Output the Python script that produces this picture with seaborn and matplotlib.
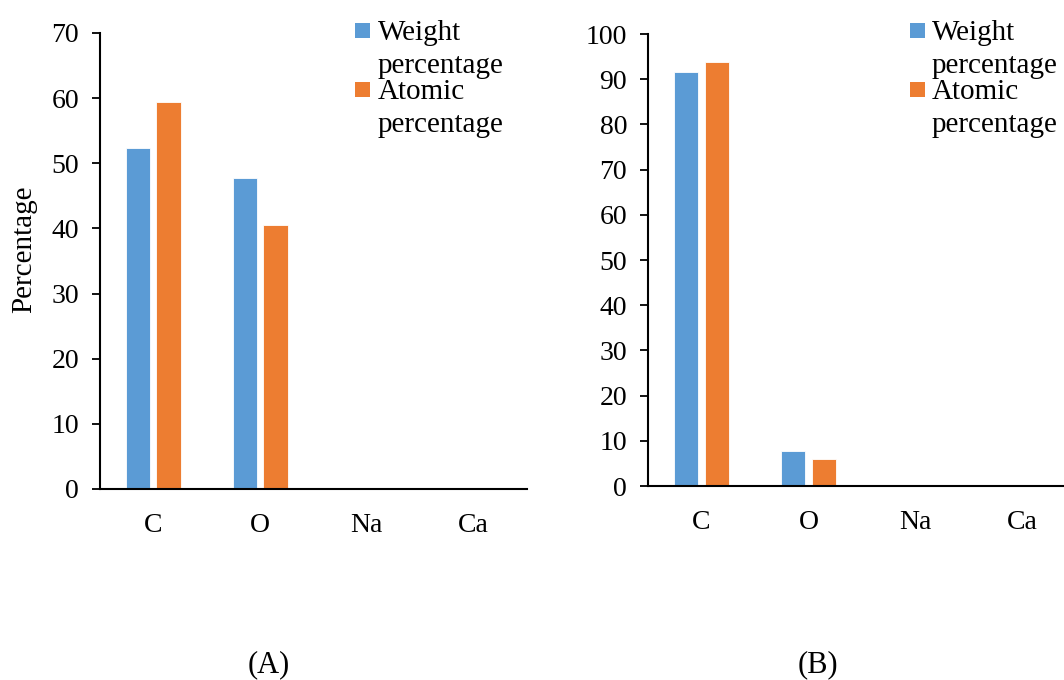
import matplotlib
matplotlib.use("Agg")
import matplotlib.pyplot as plt
import seaborn as sns
import pandas as pd
from matplotlib.patches import Rectangle

# ---- data ----
elements = ["C", "O", "Na", "Ca"]
series_names = ["Weight percentage", "Atomic percentage"]
weight_A = [52.3, 47.7, 0.15, 0.0]
atomic_A = [59.4, 40.6, 0.10, 0.0]
weight_B = [91.6, 7.7, 0.0, 0.0]
atomic_B = [93.8, 6.0, 0.0, 0.0]
yticks_A = [0, 10, 20, 30, 40, 50, 60, 70]
yticks_B = [0, 10, 20, 30, 40, 50, 60, 70, 80, 90, 100]
panel_labels = ["(A)", "(B)"]
ylabel = "Percentage"

colors = ["#5B9BD5", "#ED7D31"]

sns.set_theme(style="white")
plt.rcParams["font.family"] = ["Liberation Serif", "DejaVu Serif"]

W, H = 1064, 680
fig = plt.figure(figsize=(W / 100, H / 100), dpi=100)


def box(l, t, r, b):
    return [l / W, 1 - b / H, (r - l) / W, (b - t) / H]


def make_df(w, a):
    rows = []
    for e, v in zip(elements, w):
        rows.append({"Element": e, "Series": series_names[0], "Value": v})
    for e, v in zip(elements, a):
        rows.append({"Element": e, "Series": series_names[1], "Value": v})
    return pd.DataFrame(rows)


axA = fig.add_axes(box(100, 33, 527, 489))
axB = fig.add_axes(box(648, 34, 1076, 486))

for ax, w, a, yt in [(axA, weight_A, atomic_A, yticks_A), (axB, weight_B, atomic_B, yticks_B)]:
    df = make_df(w, a)
    sns.barplot(data=df, x="Element", y="Value", hue="Series", order=elements,
                hue_order=series_names, palette=colors, saturation=1,
                width=0.57, gap=0.2, edgecolor="white", linewidth=0.6,
                legend=False, ax=ax)
    ax.set_ylim(yt[0], yt[-1])
    ax.set_yticks(yt)
    ax.set_xlabel("")
    ax.set_ylabel("")
    ax.set_facecolor("none")
    for s in ["top", "right"]:
        ax.spines[s].set_visible(False)
    for s in ["left", "bottom"]:
        ax.spines[s].set_color("black")
        ax.spines[s].set_linewidth(1.5)
    ax.tick_params(axis="y", which="major", direction="out", length=6, width=1.3,
                   color="black", labelsize=20, pad=9, left=True)
    ax.tick_params(axis="x", length=0, labelsize=20, pad=17)
    for lab in ax.get_xticklabels() + ax.get_yticklabels():
        lab.set_color("black")

fig.text(24 / W, 1 - 249 / H, ylabel, rotation=90, ha="center", va="center",
         fontsize=21, color="black")

# panel labels
fig.text(269 / W, 1 - 665 / H, panel_labels[0], ha="center", va="center", fontsize=22, color="black")
fig.text(818 / W, 1 - 665 / H, panel_labels[1], ha="center", va="center", fontsize=22, color="black")

# legends (manually positioned, overlapping like the original)
def legend_at(x_sq, x_txt):
    tops = [23, 82]
    baselines = [(40, 73), (99, 132)]
    for i, name in enumerate(series_names):
        fig.add_artist(Rectangle((x_sq / W, 1 - (tops[i] + 15) / H), 15 / W, 15 / H,
                                 transform=fig.transFigure, facecolor=colors[i],
                                 edgecolor="none"))
        words = name.split(" ")
        for word, bl in zip(words, baselines[i]):
            fig.text(x_txt / W, 1 - bl / H, word, ha="left", va="baseline",
                     fontsize=21, color="black")


legend_at(355, 378)
legend_at(910, 932)

fig.savefig("out.png", dpi=100, facecolor="white")
